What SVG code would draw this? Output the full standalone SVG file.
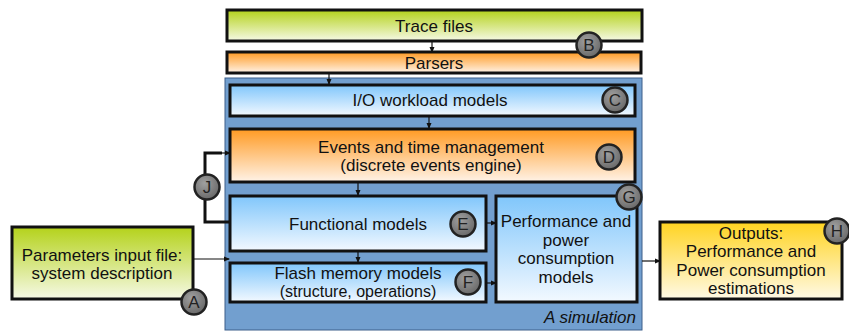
<svg xmlns="http://www.w3.org/2000/svg" width="849" height="332" viewBox="0 0 849 332">
<defs>
<linearGradient id="gGreen" x1="0" y1="0" x2="0" y2="1"><stop offset="0" stop-color="#b4d21a"/><stop offset="1" stop-color="#f6f9e6"/></linearGradient>
<linearGradient id="gOrange" x1="0" y1="0" x2="0" y2="1"><stop offset="0" stop-color="#ff9a22"/><stop offset="1" stop-color="#fff3e8"/></linearGradient>
<linearGradient id="gBlue" x1="0" y1="0" x2="0" y2="1"><stop offset="0" stop-color="#80c6fb"/><stop offset="1" stop-color="#f3f9ff"/></linearGradient>
<linearGradient id="gYellow" x1="0" y1="0" x2="0" y2="1"><stop offset="0" stop-color="#ffd320"/><stop offset="1" stop-color="#fffae6"/></linearGradient>
<radialGradient id="gCircle" cx="0.4" cy="0.35" r="0.7"><stop offset="0" stop-color="#a0a0a0"/><stop offset="1" stop-color="#666"/></radialGradient>
<marker id="ah" markerWidth="6" markerHeight="6" refX="5" refY="3" orient="auto" markerUnits="userSpaceOnUse"><path d="M0,0.5 L6,3 L0,5.5 Z" fill="#111"/></marker>
</defs>
<style>
.box{stroke:#111;stroke-width:3}
.t{font-family:"Liberation Sans",Arial,sans-serif;font-size:17px;fill:#111;text-anchor:middle}
.c{fill:url(#gCircle);stroke:#222;stroke-width:2.5}
.cl{font-family:"Liberation Sans",Arial,sans-serif;font-size:17px;fill:#222;text-anchor:middle}
.conn{stroke:#111;stroke-width:1.2;fill:none;marker-end:url(#ah)}
.jl{stroke:#111;stroke-width:3;fill:none}
</style>
<g id="simulation">
<rect x="225" y="78" width="417" height="252" fill="#729fcf" stroke="#3d5f8a" stroke-width="1"/>
<text x="636" y="323" style="font-family:'Liberation Sans',Arial,sans-serif;font-size:17px;font-style:italic;fill:#111;text-anchor:end">A simulation</text>
</g>
<g id="connectors">
<line class="conn" x1="432" y1="42" x2="432" y2="52"/>
<line class="conn" x1="329" y1="73" x2="329" y2="84"/>
<line class="conn" x1="429" y1="116" x2="429" y2="128"/>
<line class="conn" x1="358" y1="182" x2="358" y2="195"/>
<line class="conn" x1="358" y1="251" x2="358" y2="262"/>
<line class="conn" x1="193" y1="259" x2="229" y2="259"/>
<line class="conn" x1="486" y1="223" x2="496" y2="223"/>
<line class="conn" x1="486" y1="283" x2="496" y2="283"/>
<line class="conn" x1="642" y1="261" x2="660" y2="261"/>
<path class="jl" d="M230,222 H205 V153 H222"/>
<line class="conn" x1="220" y1="153" x2="230" y2="153"/>
</g>
<g id="trace">
<rect class="box" x="227" y="10" width="415" height="31" fill="url(#gGreen)"/>
<text class="t" x="434" y="32">Trace files</text>
</g>
<g id="parsers">
<rect class="box" x="227" y="52" width="414" height="21" fill="url(#gOrange)"/>
<text class="t" x="434" y="69">Parsers</text>
</g>
<g id="io">
<rect class="box" x="230" y="85" width="405" height="31" fill="url(#gBlue)"/>
<text class="t" x="430" y="106">I/O workload models</text>
</g>
<g id="events">
<rect class="box" x="230" y="129" width="405" height="53" fill="url(#gOrange)"/>
<text class="t" x="431" y="153">Events and time management</text>
<text class="t" x="431" y="171">(discrete events engine)</text>
</g>
<g id="functional">
<rect class="box" x="230" y="196" width="256" height="55" fill="url(#gBlue)"/>
<text class="t" x="358" y="230">Functional models</text>
</g>
<g id="flash">
<rect class="box" x="230" y="263" width="256" height="39" fill="url(#gBlue)"/>
<text class="t" x="358" y="279">Flash memory models</text>
<text class="t" x="358" y="297" style="font-size:16px">(structure, operations)</text>
</g>
<g id="performance">
<rect class="box" x="496" y="196" width="141" height="106" fill="url(#gBlue)"/>
<text class="t" x="566" y="227">Performance and</text>
<text class="t" x="566" y="246">power</text>
<text class="t" x="566" y="264">consumption</text>
<text class="t" x="566" y="283">models</text>
</g>
<g id="parameters">
<rect class="box" x="12" y="227" width="181" height="72" fill="url(#gGreen)"/>
<text class="t" x="102" y="261">Parameters input file:</text>
<text class="t" x="102" y="279">system description</text>
</g>
<g id="outputs">
<rect class="box" x="660" y="222" width="182" height="77" fill="url(#gYellow)"/>
<text class="t" x="751" y="239">Outputs:</text>
<text class="t" x="751" y="257">Performance and</text>
<text class="t" x="751" y="276">Power consumption</text>
<text class="t" x="751" y="294">estimations</text>
</g>
<g id="labels">
<g id="lA"><circle class="c" cx="194" cy="302" r="12.5"/><text class="cl" x="194" y="308">A</text></g>
<g id="lB"><circle class="c" cx="589" cy="45" r="12.5"/><text class="cl" x="589" y="51">B</text></g>
<g id="lC"><circle class="c" cx="615" cy="100" r="12.5"/><text class="cl" x="615" y="106">C</text></g>
<g id="lD"><circle class="c" cx="609" cy="157" r="12.5"/><text class="cl" x="609" y="163">D</text></g>
<g id="lE"><circle class="c" cx="463" cy="224" r="12.5"/><text class="cl" x="463" y="230">E</text></g>
<g id="lF"><circle class="c" cx="468" cy="282" r="12.5"/><text class="cl" x="468" y="288">F</text></g>
<g id="lG"><circle class="c" cx="629" cy="197" r="12.5"/><text class="cl" x="629" y="203">G</text></g>
<g id="lH"><circle class="c" cx="837" cy="231" r="12.5"/><text class="cl" x="837" y="237">H</text></g>
<g id="lJ"><circle class="c" cx="207" cy="187" r="12.5"/><text class="cl" x="207" y="193">J</text></g>
</g>
</svg>
